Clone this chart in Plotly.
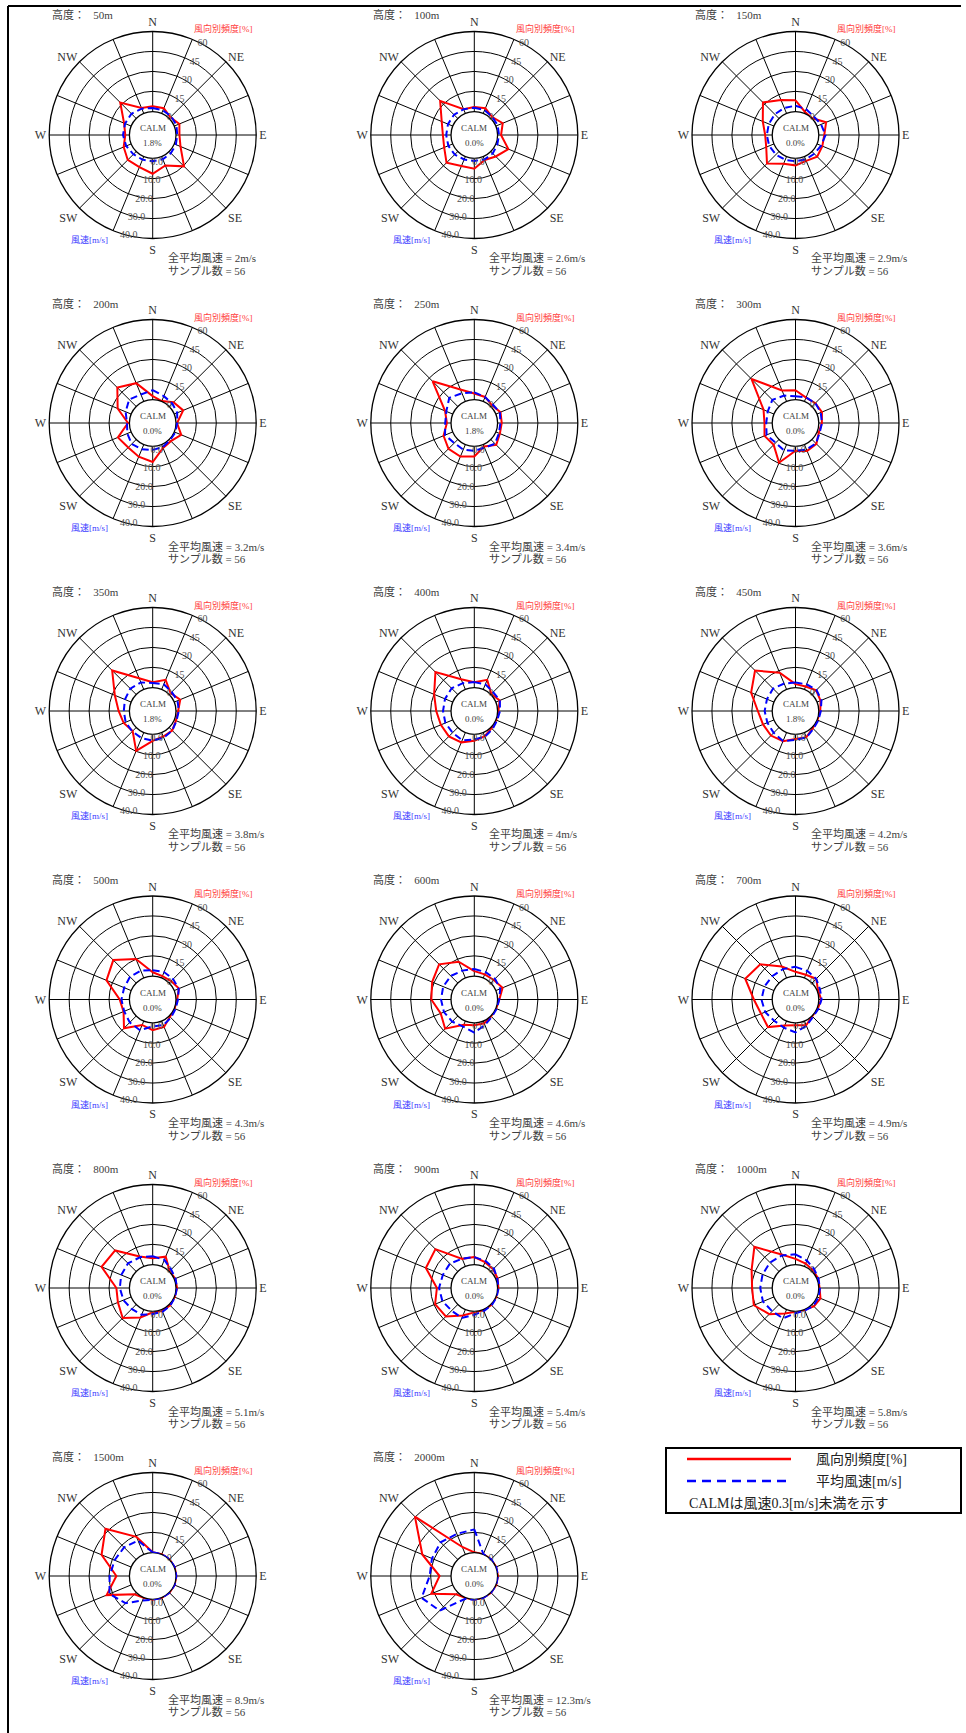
import plotly.graph_objects as go

# ---------------- data ----------------
directions = ["N", "NNE", "NE", "ENE", "E", "ESE", "SE", "SSE",
              "S", "SSW", "SW", "WSW", "W", "WNW", "NW", "NNW"]
dir_labels = ["N", "", "NE", "", "E", "", "SE", "", "S", "", "SW", "", "W", "", "NW", ""]
heights = ["50m", "100m", "150m", "200m", "250m", "300m", "350m", "400m", "450m",
           "500m", "600m", "700m", "800m", "900m", "1000m", "1500m", "2000m"]
mean_speed = ["2", "2.6", "2.9", "3.2", "3.4", "3.6", "3.8", "4", "4.2",
              "4.3", "4.6", "4.9", "5.1", "5.4", "5.8", "8.9", "12.3"]
calm_pct = [1.8, 0.0, 0.0, 0.0, 1.8, 0.0, 1.8, 0.0, 1.8,
            0.0, 0.0, 0.0, 0.0, 0.0, 0.0, 0.0, 0.0]
sample_count = 56

freq_50m = [3.8, 4.0, 1.0, 3.9, 2.3, 4.8, 15.5, 7.0, 11.3, 8.3, 8.7, 5.8, 2.8, 5.5, 16.7, 4.1]
speed_50m = [1.7, 1.5, 1.3, 1.0, 0.4, 0.7, 1.0, 1.3, 1.3, 1.5, 1.8, 2.5, 3.0, 3.1, 3.2, 2.4]
freq_100m = [3.3, 3.9, 1.3, 5.3, 2.3, 9.9, 5.0, 2.5, 7.5, 7.4, 11.7, 6.7, 5.8, 8.7, 18.5, 3.2]
speed_100m = [1.8, 1.6, 0.9, 0.8, 0.5, 0.6, 1.2, 1.4, 1.1, 1.4, 2.0, 2.2, 2.2, 2.4, 2.5, 2.1]
freq_150m = [8.3, 0.9, 0.0, 7.1, 3.8, 4.0, 5.2, 3.2, 5.0, 5.5, 12.5, 6.0, 5.0, 8.8, 16.8, 10.7]
speed_150m = [2.8, 2.1, 1.2, 2.0, 3.2, 2.0, 1.4, 1.4, 1.3, 1.6, 2.0, 2.4, 2.5, 2.6, 2.8, 2.8]
freq_200m = [2.4, 0.0, 4.3, 7.0, 0.5, 5.4, 1.5, 2.5, 11.5, 9.6, 8.2, 10.5, 0.8, 10.7, 19.8, 14.6]
speed_200m = [4.6, 2.7, 2.0, 1.4, 0.4, 0.4, 0.3, 1.2, 1.6, 2.4, 3.0, 1.9, 1.0, 2.8, 4.8, 3.6]
freq_250m = [4.3, 3.4, 1.0, 3.5, 2.8, 3.0, 5.5, 1.3, 7.4, 9.5, 9.6, 7.2, 2.8, 6.0, 26.5, 9.5]
speed_250m = [3.5, 2.2, 1.2, 2.0, 1.2, 1.5, 2.8, 1.5, 2.1, 2.6, 2.3, 4.0, 2.7, 3.3, 5.9, 4.3]
freq_300m = [6.8, 2.9, 3.3, 3.7, 2.0, 1.1, 4.4, 4.9, 3.0, 14.5, 5.4, 7.4, 5.5, 8.2, 29.0, 8.7]
speed_300m = [1.5, 2.0, 2.2, 1.8, 1.4, 1.2, 2.6, 2.5, 2.0, 3.0, 2.2, 3.8, 2.8, 3.2, 4.5, 3.0]
freq_350m = [3.8, 7.5, 1.2, 4.6, 1.3, 1.1, 2.9, 2.9, 4.6, 14.7, 3.5, 5.8, 7.8, 13.0, 25.3, 8.9]
speed_350m = [2.2, 2.6, 1.6, 1.6, 1.2, 1.0, 2.0, 2.6, 3.0, 2.8, 2.6, 2.8, 2.6, 3.2, 4.0, 3.6]
freq_400m = [3.8, 7.5, 0.3, 2.8, 0.3, 0.0, 0.5, 2.7, 4.6, 7.7, 9.2, 9.4, 10.8, 14.9, 23.5, 8.0]
speed_400m = [2.6, 2.6, 1.5, 2.0, 1.0, 0.5, 1.0, 2.0, 2.4, 4.0, 3.5, 3.8, 3.8, 4.0, 4.2, 3.2]
freq_450m = [2.4, 2.1, 4.1, 2.6, 0.8, 0.0, 0.5, 3.5, 3.2, 6.7, 8.3, 8.6, 10.5, 18.3, 25.2, 13.3]
speed_450m = [2.4, 2.6, 3.0, 2.2, 0.8, 0.5, 0.8, 2.5, 2.6, 4.4, 3.6, 3.4, 3.6, 3.6, 4.0, 3.0]
freq_500m = [2.7, 1.2, 1.7, 3.6, 0.5, 0.0, 0.5, 4.5, 5.2, 2.9, 12.7, 5.9, 7.0, 19.8, 24.1, 15.2]
speed_500m = [2.8, 3.0, 2.6, 2.2, 0.8, 0.5, 1.0, 2.0, 1.6, 4.8, 4.4, 3.6, 3.8, 3.6, 4.2, 3.8]
freq_600m = [3.5, 2.6, 2.9, 5.2, 1.0, 0.0, 0.0, 1.5, 1.6, 2.7, 13.2, 9.5, 14.5, 16.5, 19.6, 12.9]
speed_600m = [3.4, 3.0, 2.8, 2.2, 0.6, 0.3, 0.5, 2.0, 4.7, 2.8, 3.8, 4.6, 4.8, 5.0, 4.8, 3.8]
freq_700m = [3.0, 2.3, 4.2, 0.5, 1.5, 0.3, 0.0, 3.1, 1.6, 3.4, 11.5, 10.2, 13.5, 23.1, 19.6, 9.0]
speed_700m = [4.5, 3.6, 2.8, 1.4, 1.2, 0.5, 0.5, 2.4, 4.6, 3.4, 3.2, 4.6, 5.2, 5.0, 4.6, 4.6]
freq_800m = [4.6, 7.7, 0.2, 0.5, 0.5, 0.0, 0.7, 1.0, 0.4, 6.2, 14.1, 10.5, 9.5, 23.8, 22.1, 7.9]
speed_800m = [4.0, 3.4, 1.2, 0.5, 0.3, 0.2, 0.6, 1.0, 1.2, 2.6, 3.0, 4.0, 4.6, 5.2, 5.6, 4.8]
freq_900m = [5.5, 3.2, 2.2, 1.1, 0.3, 0.0, 0.2, 0.4, 0.5, 4.6, 12.4, 14.1, 10.3, 21.6, 23.5, 5.9]
speed_900m = [3.6, 2.8, 2.0, 0.6, 0.3, 0.2, 0.4, 0.6, 1.5, 4.4, 4.2, 5.4, 5.8, 5.2, 5.4, 4.0]
freq_1000m = [4.1, 2.1, 0.9, 0.7, 0.3, 2.5, 1.7, 0.0, 0.0, 2.9, 10.0, 16.1, 14.8, 17.9, 25.9, 9.4]
speed_1000m = [5.0, 3.0, 1.4, 0.5, 0.4, 0.6, 0.8, 0.4, 0.8, 4.6, 4.6, 5.8, 5.8, 6.0, 6.2, 5.8]
freq_1500m = [0.0, 0.0, 0.0, 0.0, 0.0, 0.0, 0.0, 0.0, 0.0, 0.0, 1.6, 19.7, 9.5, 23.8, 32.4, 14.1]
speed_1500m = [0.0, 0.0, 0.0, 0.0, 0.0, 0.0, 0.0, 0.0, 0.0, 1.4, 7.4, 11.6, 9.7, 8.8, 8.4, 7.3]
freq_2000m = [0.0, 0.0, 0.0, 0.0, 0.0, 0.0, 0.0, 0.0, 0.0, 0.0, 1.6, 17.2, 8.3, 24.5, 45.3, 5.8]
speed_2000m = [11.5, 0.0, 0.0, 0.0, 0.0, 0.0, 0.0, 0.0, 0.0, 0.6, 12.7, 16.7, 10.5, 11.1, 12.0, 11.0]

freq_all = [freq_50m, freq_100m, freq_150m, freq_200m, freq_250m, freq_300m, freq_350m,
            freq_400m, freq_450m, freq_500m, freq_600m, freq_700m, freq_800m, freq_900m,
            freq_1000m, freq_1500m, freq_2000m]
speed_all = [speed_50m, speed_100m, speed_150m, speed_200m, speed_250m, speed_300m, speed_350m,
             speed_400m, speed_450m, speed_500m, speed_600m, speed_700m, speed_800m, speed_900m,
             speed_1000m, speed_1500m, speed_2000m]

freq_ticks = [0, 15, 30, 45, 60]
speed_ticks = [0, 10, 20, 30, 40]

# ---------------- layout geometry ----------------
W, H = 966, 1733
COL_X = [152.7, 474.3, 795.5]
ROW_Y = [135.0, 423.0, 711.0, 999.5, 1288.0, 1576.0]
R = 103.5
HOLE = 23.3 / R
FONT = "Liberation Serif, 'Noto Sans CJK JP', serif"
TXT = "#404040"
FREQ_AXIS_ANGLE = 67.5
SPEED_AXIS_ANGLE = 247.5

def fx(x):
    return x / W

def fy(y):
    return 1 - y / H

angles = [i * 360.0 / len(directions) for i in range(len(directions))]
theta_closed = angles + [angles[0]]

fig = go.Figure()
layout = {}
annotations = []

for i, h in enumerate(heights):
    row, col = divmod(i, 3)
    cx, cy = COL_X[col], ROW_Y[row]
    dom = dict(x=[fx(cx - R), fx(cx + R)], y=[fy(cy + R), fy(cy - R)])
    pf = "polar" if i == 0 else f"polar{2 * i + 1}"
    ps = f"polar{2 * i + 2}"

    f = freq_all[i]
    s = speed_all[i]
    fig.add_trace(go.Scatterpolar(r=f + [f[0]], theta=theta_closed, mode="lines",
                                  line=dict(color="#ff0000", width=2),
                                  subplot=pf, showlegend=False, hoverinfo="skip"))
    fig.add_trace(go.Scatterpolar(r=s + [s[0]], theta=theta_closed, mode="lines",
                                  line=dict(color="#0000ff", width=2, dash="7px,4px"),
                                  subplot=ps, showlegend=False, hoverinfo="skip"))

    layout[pf] = dict(
        domain=dom, hole=HOLE, bgcolor="white",
        radialaxis=dict(range=[-0.3, 60], tickmode="array", tickvals=freq_ticks,
                        ticktext=[str(v) for v in freq_ticks],
                        showgrid=True, gridcolor="black", gridwidth=1,
                        showline=False, ticks="", angle=FREQ_AXIS_ANGLE,
                        tickangle=FREQ_AXIS_ANGLE,
                        tickfont=dict(size=10, color="#505050", family=FONT)),
        angularaxis=dict(direction="clockwise", rotation=90, tickmode="array",
                         tickvals=angles, ticktext=dir_labels,
                         showgrid=True, gridcolor="black", gridwidth=1,
                         showline=True, linecolor="black", linewidth=1.3, ticks="",
                         tickfont=dict(size=12, color="#333333", family=FONT)),
    )
    layout[ps] = dict(
        domain=dom, hole=HOLE, bgcolor="rgba(0,0,0,0)",
        radialaxis=dict(range=[-0.2, 40], tickmode="array", tickvals=speed_ticks,
                        ticktext=[f"{v:.1f}" for v in speed_ticks],
                        showgrid=False, showline=False, ticks="", angle=SPEED_AXIS_ANGLE,
                        side="counterclockwise",
                        tickangle=SPEED_AXIS_ANGLE - 360,
                        tickfont=dict(size=10, color="#505050", family=FONT)),
        angularaxis=dict(direction="clockwise", rotation=90, visible=False),
    )

    def ann(text, x, y, size, color=TXT, xanchor="left"):
        annotations.append(dict(text=text, x=fx(x), y=fy(y), xref="paper", yref="paper",
                                showarrow=False, xanchor=xanchor, yanchor="middle",
                                font=dict(size=size, color=color, family=FONT)))

    ann("高度：\u00a0\u00a0\u00a0" + h, cx - 103, cy - 120, 11)
    ann("風向別頻度[%]", cx + 71, cy - 106, 9, "#ff4040", "center")
    ann("風速[m/s]", cx - 63, cy + 105, 9, "#4040ff", "center")
    ann(f"全平均風速\u00a0=\u00a0{mean_speed[i]}m/s", cx + 13, cy + 123, 11)
    ann(f"サンプル数\u00a0=\u00a0{sample_count}", cx + 13, cy + 136, 11)
    ann("CALM", cx, cy - 7, 9, TXT, "center")
    ann(f"{calm_pct[i]:.1f}%", cx, cy + 8, 9, TXT, "center")

# legend box
shapes = [
    dict(type="rect", xref="paper", yref="paper", x0=fx(666), x1=fx(961), y0=fy(1513), y1=fy(1448),
         line=dict(color="black", width=2), fillcolor="white"),
    dict(type="line", xref="paper", yref="paper", x0=fx(687), x1=fx(791), y0=fy(1459), y1=fy(1459),
         line=dict(color="#ff0000", width=2.5)),
    dict(type="line", xref="paper", yref="paper", x0=fx(687), x1=fx(791), y0=fy(1481), y1=fy(1481),
         line=dict(color="#0000ff", width=2.5, dash="9px,6px")),
    # page frame
    dict(type="line", xref="paper", yref="paper", x0=fx(8), x1=fx(8), y0=fy(6), y1=0,
         line=dict(color="black", width=2)),
    dict(type="line", xref="paper", yref="paper", x0=fx(8), x1=fx(961), y0=fy(6), y1=fy(6),
         line=dict(color="black", width=2)),
]
for text, x, y in [("風向別頻度[%]", 814, 1459), ("平均風速[m/s]", 814, 1481),
                   ("CALMは風速0.3[m/s]未満を示す", 687, 1503)]:
    annotations.append(dict(text=text, x=fx(x), y=fy(y), xref="paper", yref="paper",
                            showarrow=False, xanchor="left", yanchor="middle",
                            font=dict(size=14, color="#222222", family=FONT)))

fig.update_layout(width=W, height=H, autosize=False,
                  margin=dict(l=0, r=0, t=0, b=0),
                  paper_bgcolor="white", plot_bgcolor="white",
                  font=dict(family=FONT), annotations=annotations, shapes=shapes,
                  showlegend=False, **layout)

fig.write_html("out.html", config={"displayModeBar": False},
               post_script="document.body.style.margin='0';document.body.style.overflow='hidden';")
